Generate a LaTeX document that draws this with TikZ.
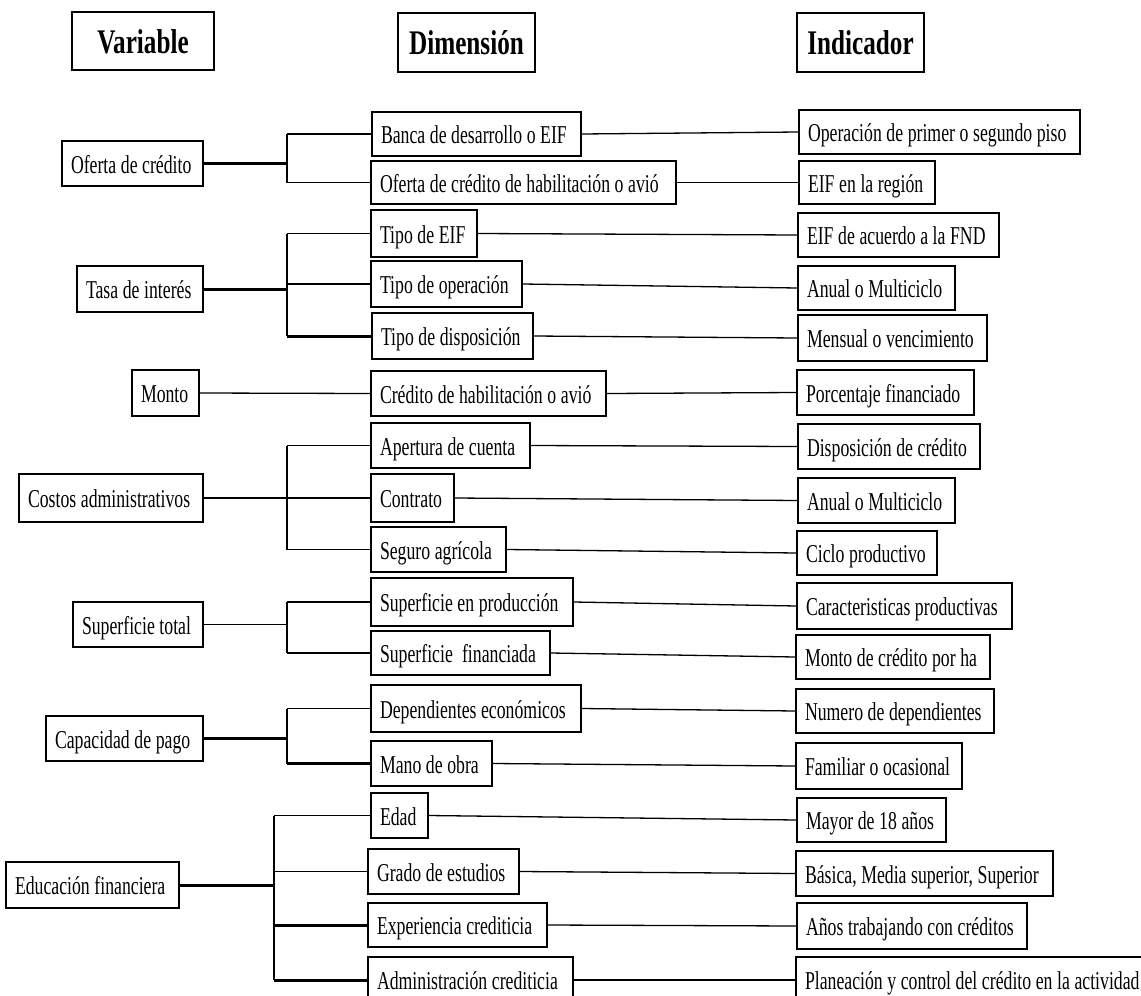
\documentclass[tikz,border=0pt]{standalone}
\usepackage{fontspec}
\setmainfont{Liberation Serif}[FakeStretch=0.69]
\newfontfamily\headfont{Liberation Serif}[FakeStretch=0.73]

% box from corner (x1,y1) to corner (x2,y2), text set flush left with narrow word spaces
\newcommand\cellbox[6]{%
  \pgfmathsetmacro\cbW{#4-#2}%
  \pgfmathsetmacro\cbH{#5-#3}%
  \pgfmathsetmacro\cbT{#4-#2-18}%
  \node[cell,minimum width=\cbW pt,minimum height=\cbH pt,text width=\cbT pt]
    (#1) at ({(#2+#4)/2},{(#3+#5)/2})
    {\mbox{\spaceskip=4.6pt plus 1pt minus 1pt\relax #6}};}
% column heading box, text centred
\newcommand\headbox[6]{%
  \pgfmathsetmacro\cbW{#4-#2}%
  \pgfmathsetmacro\cbH{#5-#3}%
  \node[head,minimum width=\cbW pt,minimum height=\cbH pt]
    (#1) at ({(#2+#4)/2},{(#3+#5)/2}) {#6};}

\begin{document}
\begin{tikzpicture}[x=1pt,y=-1pt,
  cell/.style={draw,line width=1.4pt,inner xsep=9pt,inner ysep=0pt,align=left,
    text height=25pt,text depth=6pt,font=\fontsize{25.7}{30}\selectfont},
  head/.style={draw,line width=1.8pt,inner sep=0pt,align=center,
    text height=30pt,text depth=6pt,font=\headfont\bfseries\fontsize{34.5}{40}\selectfont},
  link/.style={line width=1.3pt},
  stem/.style={line width=3pt},
  spine/.style={line width=2pt}]
\useasboundingbox (0,0) rectangle (1141,996);
\fill[white] (0,0) rectangle (1141,996);
\clip (0,0) rectangle (1141,996);

% headings
\headbox{hv}{72}{12}{214}{70}{Variable}
\headbox{hd}{398}{13}{535}{72}{Dimensión}
\headbox{hi}{797}{13}{924}{72}{Indicador}

% variables
\cellbox{v1}{62}{141}{203}{186}{Oferta de crédito}
\cellbox{v2}{77}{266}{203}{312}{Tasa de interés}
\cellbox{v3}{132}{370}{199}{416}{Monto}
\cellbox{v4}{19}{474}{203}{522}{Costos administrativos}
\cellbox{v5}{73}{602}{203}{647}{Superficie total}
\cellbox{v6}{46}{716}{203}{761}{Capacidad de pago}
\cellbox{v7}{6}{862}{179}{908}{Educación financiera}

% dimensions
\cellbox{d1}{372}{112}{581}{156}{Banca de desarrollo o EIF}
\cellbox{d2}{371}{161}{676}{204}{Oferta de crédito de habilitación o avió}
\cellbox{d3}{371}{210}{477}{257}{Tipo de EIF}
\cellbox{d4}{371}{261}{522}{307}{Tipo de operación}
\cellbox{d5}{372}{313}{533}{359}{Tipo de disposición}
\cellbox{d6}{371}{371}{606}{416}{Crédito de habilitación o avió}
\cellbox{d7}{371}{423}{530}{468}{Apertura de cuenta}
\cellbox{d8}{371}{474}{454}{522}{Contrato}
\cellbox{d9}{371}{527}{506}{572}{Seguro agrícola}
\cellbox{d10}{371}{578}{573}{626}{Superficie en producción}
\cellbox{d11}{371}{631}{550}{675}{Superficie\ \ financiada}
\cellbox{d12}{371}{685}{581}{732}{Dependientes económicos}
\cellbox{d13}{371}{741}{492}{786}{Mano de obra}
\cellbox{d14}{371}{793}{428}{838}{Edad}
\cellbox{d15}{368}{849}{519}{894}{Grado de estudios}
\cellbox{d16}{368}{903}{547}{947}{Experiencia crediticia}
\cellbox{d17}{368}{957}{573}{1003}{Administración crediticia}

% indicators
\cellbox{i1}{799}{110}{1080}{154}{Operación de primer o segundo piso}
\cellbox{i2}{799}{161}{935}{204}{EIF en la región}
\cellbox{i3}{798}{213}{999}{257}{EIF de acuerdo a la FND}
\cellbox{i4}{798}{266}{955}{310}{Anual o Multiciclo}
\cellbox{i5}{798}{315}{987}{361}{Mensual o vencimiento}
\cellbox{i6}{797}{370}{974}{415}{Porcentaje financiado}
\cellbox{i7}{798}{424}{980}{469}{Disposición de crédito}
\cellbox{i8}{798}{478}{955}{523}{Anual o Multiciclo}
\cellbox{i9}{797}{531}{937}{575}{Ciclo productivo}
\cellbox{i10}{797}{583}{1012}{629}{Caracteristicas productivas}
\cellbox{i11}{796}{635}{990}{679}{Monto de crédito por ha}
\cellbox{i12}{796}{689}{994}{733}{Numero de dependientes}
\cellbox{i13}{796}{743}{962}{789}{Familiar o ocasional}
\cellbox{i14}{797}{798}{946}{842}{Mayor de 18 años}
\cellbox{i15}{796}{851}{1053}{896}{Básica, Media superior, Superior}
\cellbox{i16}{797}{903}{1027}{949}{Años trabajando con créditos}
\cellbox{i17}{796}{957}{1160}{1003}{Planeación y control del crédito en la actividad}

% branching points
\coordinate (j1) at (287,163.5);
\coordinate (j2) at (287,289);
\coordinate (j4) at (287,498);
\coordinate (j5) at (287,624.5);
\coordinate (j6) at (287,738.5);
\coordinate (j7) at (274,885);

% variable -> dimension
\draw[spine] (d1.west -| j1) -- (d2.west -| j1);
\draw[link] (j1 |- d1.west) -- (d1.west);
\draw[link] (j1 |- d2.west) -- (d2.west);
\draw[stem] (v1.east) -- (j1);

\draw[spine] (d3.west -| j2) -- (d5.west -| j2);
\draw[link] (j2 |- d3.west) -- (d3.west);
\draw[link] (j2 |- d4.west) -- (d4.west);
\draw[stem] (j2 |- d5.west) -- (d5.west);
\draw[stem] (v2.east) -- (j2);

\draw[link] (v3.east) -- (d6.west);

\draw[spine] (d7.west -| j4) -- (d9.west -| j4);
\draw[link] (j4 |- d7.west) -- (d7.west);
\draw[link] (j4 |- d8.west) -- (d8.west);
\draw[link] (j4 |- d9.west) -- (d9.west);
\draw[link] (v4.east) -- (j4);

\draw[spine] (d10.west -| j5) -- (d11.west -| j5);
\draw[link] (j5 |- d10.west) -- (d10.west);
\draw[link] (j5 |- d11.west) -- (d11.west);
\draw[link] (v5.east) -- (j5);

\draw[spine] (d12.west -| j6) -- (d13.west -| j6);
\draw[link] (j6 |- d12.west) -- (d12.west);
\draw[stem] (j6 |- d13.west) -- (d13.west);
\draw[stem] (v6.east) -- (j6);

\draw[line width=2.5pt] (d14.west -| j7) -- (d17.west -| j7);
\draw[link] (j7 |- d14.west) -- (d14.west);
\draw[link] (j7 |- d15.west) -- (d15.west);
\draw[stem] (j7 |- d16.west) -- (d16.west);
\draw[stem] (j7 |- d17.west) -- (d17.west);
\draw[stem] (v7.east) -- (j7);

% dimension -> indicator
\foreach \k in {1,...,17}{
  \draw[link] (d\k.east) -- (i\k.west);
}
\end{tikzpicture}
\end{document}
